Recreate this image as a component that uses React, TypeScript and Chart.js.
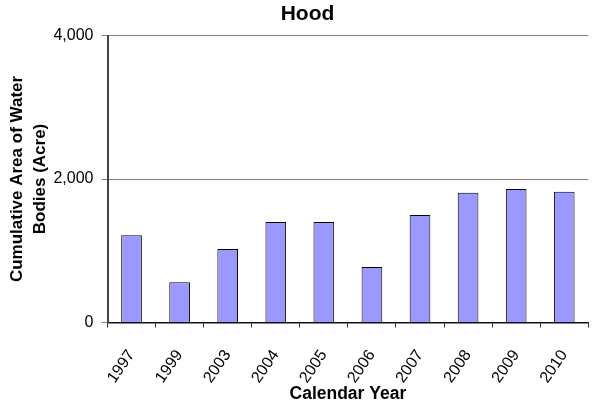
import React, { useEffect, useRef } from 'react';
import { Chart, registerables } from 'chart.js';

Chart.register(...registerables);

const chartTitle = 'Hood';
const categories = ['1997', '1999', '2003', '2004', '2005', '2006', '2007', '2008', '2009', '2010'];
const areaValues = [1215, 560, 1024, 1401, 1401, 773, 1498, 1809, 1861, 1823];
const yAxisTitle = ['Cumulative Area of Water', 'Bodies (Acre)'];
const xAxisTitle = 'Calendar Year';
const yMin = 0;
const yMax = 4000;
const yStep = 2000;

const FONT = '"Liberation Sans", Arial, Helvetica, sans-serif';

export default function App() {
  const ref = useRef<HTMLCanvasElement>(null);

  useEffect(() => {
    if (!ref.current) return;
    const titlePlugin = {
      id: 'customTitle',
      afterDraw(chart: any) {
        const ctx = chart.ctx;
        ctx.save();
        ctx.font = `bold 21px ${FONT}`;
        ctx.fillStyle = '#000';
        ctx.textAlign = 'center';
        ctx.textBaseline = 'middle';
        ctx.fillText(chartTitle, 307.5, 14.5);
        ctx.restore();
      },
    };
    const chart = new Chart(ref.current, {
      type: 'bar',
      data: {
        labels: categories,
        datasets: [
          {
            data: areaValues,
            backgroundColor: '#9999FF',
            borderColor: '#000',
            borderWidth: 1,
            barPercentage: 0.43,
            categoryPercentage: 1,
          },
        ],
      },
      options: {
        animation: false,
        responsive: false,
        devicePixelRatio: 1,
        layout: { padding: { top: 35.5, right: 0.6, bottom: 0, left: 0 } },
        plugins: {
          legend: { display: false },
          tooltip: { enabled: false },
          title: { display: false },
        },
        scales: {
          x: {
            grid: {
              display: true,
              drawOnChartArea: false,
              drawTicks: true,
              tickLength: 5,
              color: '#333',
              offset: true,
            },
            border: { display: true, color: '#111', width: 1.5 },
            ticks: {
              minRotation: 55,
              maxRotation: 55,
              autoSkip: false,
              padding: 19,
              color: '#000',
              font: { family: FONT, size: 16 },
            },
            title: {
              display: true,
              text: xAxisTitle,
              color: '#000',
              font: { family: FONT, size: 17.5, weight: 'bold', lineHeight: 1.2 },
              padding: { top: 0, bottom: 1.5 },
            },
            afterFit: (s: any) => {
              s.height = 83.5;
            },
          },
          y: {
            min: yMin,
            max: yMax,
            ticks: {
              stepSize: yStep,
              padding: 8,
              color: '#000',
              font: { family: FONT, size: 16 },
              callback: (v: any) => Number(v).toLocaleString('en-US'),
            },
            grid: { color: '#808080', lineWidth: 1, tickLength: 6, drawTicks: true },
            border: { display: true, color: '#444', width: 2 },
            title: {
              display: true,
              text: yAxisTitle,
              color: '#000',
              font: { family: FONT, size: 17, weight: 'bold', lineHeight: 1.35 },
              padding: { top: 5.5, bottom: 0 },
            },
            afterFit: (s: any) => {
              s.width = 107.5;
            },
          },
        },
      } as any,
      plugins: [titlePlugin],
    });
    return () => chart.destroy();
  }, []);

  return (
    <div
      style={{
        position: 'fixed',
        left: 0,
        top: 0,
        width: 595,
        height: 406,
        overflow: 'hidden',
        background: '#fff',
      }}
    >
      <canvas ref={ref} width={599} height={406} style={{ display: 'block' }} />
    </div>
  );
}
